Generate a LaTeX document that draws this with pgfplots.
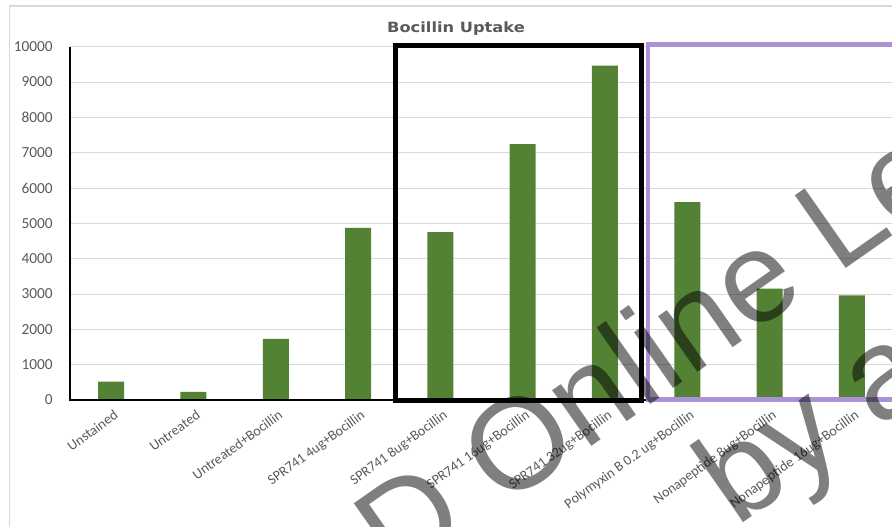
\documentclass[border=0pt]{standalone}
\usepackage{fontspec}
\setmainfont{Carlito}
\newfontfamily\titlefont{DejaVu Sans}[FakeStretch=1.15]
\newfontfamily\wmfont{Liberation Sans}
\usepackage{pgfplots}
\pgfplotsset{compat=1.18}
\definecolor{bargreen}{RGB}{84,130,53}
\definecolor{gridgray}{RGB}{217,217,217}
\definecolor{txtgray}{RGB}{89,89,89}
\definecolor{boxpurple}{RGB}{171,146,214}

\begin{document}
\begin{tikzpicture}
\path[use as bounding box] (-52.5pt,-94.5pt) rectangle (616.5pt,300pt);
\clip (-52.5pt,-94.5pt) rectangle (616.5pt,300pt);
% chart area frame
\draw[gridgray, line width=0.75pt] (-45pt,-120pt) -- (-45pt,295.5pt) -- (700pt,295.5pt);
% title
\node[font=\titlefont\bfseries\fontsize{10.6pt}{12pt}\selectfont, text=txtgray, anchor=base, inner sep=0pt]
  at (289.5pt,276pt) {Bocillin Uptake};
\begin{axis}[
  at={(0pt,0pt)}, anchor=south west, scale only axis,
  width=617.25pt, height=265pt,
  xmin=-0.5, xmax=9.5, ymin=0, ymax=10000,
  clip=false,
  axis line style={draw=none},
  ymajorgrids, grid style={gridgray, line width=0.75pt},
  ytick={0,1000,...,10000},
  scaled y ticks=false,
  xtick={0,...,9},
  xticklabels={Unstained, Untreated, Untreated+Bocillin, SPR741 4ug+Bocillin,
    SPR741 8ug+Bocillin, SPR741 16ug+Bocillin, SPR741 32ug+Bocillin,
    Polymyxin B 0.2 ug+Bocillin, Nonapeptide 8ug+Bocillin, Nonapeptide 16ug+Bocillin},
  major tick length=0pt,
  tick style={draw=none},
  /pgf/number format/assume math mode=true,
  /pgf/number format/1000 sep={},
  yticklabel style={font=\fontsize{11.5pt}{13pt}\selectfont, text=txtgray,
    inner sep=0pt, anchor=east, xshift=-12.75pt},
  xticklabel style={font=\fontsize{10.6pt}{12pt}\selectfont, text=txtgray,
    inner sep=0pt, anchor=north east, xshift=1.5pt, yshift=-6.75pt, rotate=36},
]
\addplot[ybar, bar width=19.5pt, fill=bargreen, draw=none] coordinates {
  (0,520) (1,230) (2,1730) (3,4870) (4,4750)
  (5,7240) (6,9460) (7,5600) (8,3150) (9,2960)};
% axis lines
\draw[black, line width=2pt] (axis cs:-0.5,10000) -- (axis cs:-0.5,0) -- (axis cs:9.5,0);
% highlight boxes
\draw[black, line width=3.75pt] (axis cs:3.455,-14) rectangle (axis cs:6.444,10034);
\draw[boxpurple, line width=3.4pt] (axis cs:10.5,14) -- (axis cs:6.523,14)
  -- (axis cs:6.523,10062) -- (axis cs:10.5,10062);
\end{axis}
% watermark
\node[font=\wmfont\fontsize{96.75pt}{110pt}\selectfont, text=black, text opacity=0.5,
  anchor=base west, inner sep=0pt, rotate=35] at (245pt,-137pt) {D Online Le};
\node[font=\wmfont\fontsize{96.75pt}{110pt}\selectfont, text=black, text opacity=0.5,
  anchor=base west, inner sep=0pt, rotate=35] at (500pt,-96pt) {by a};
\end{tikzpicture}
\end{document}
